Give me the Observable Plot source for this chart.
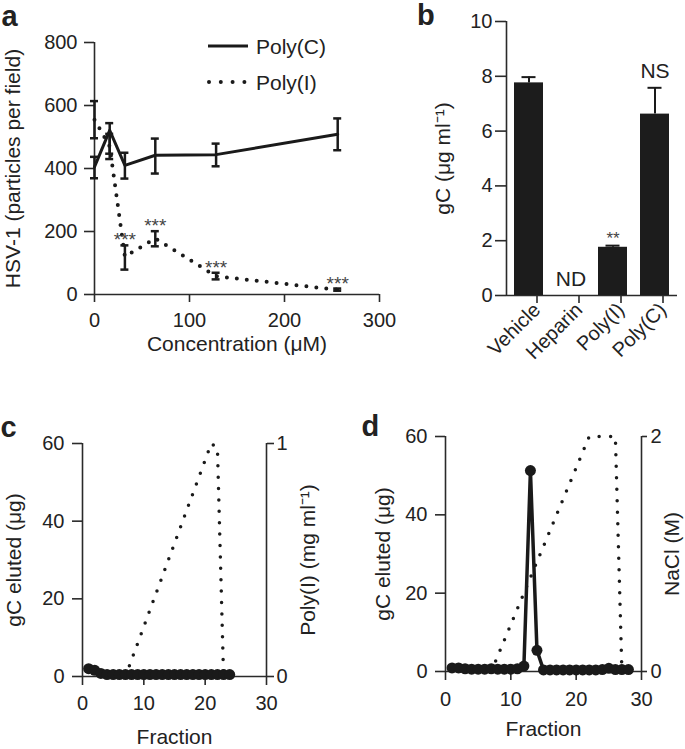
<!DOCTYPE html>
<html><head><meta charset="utf-8">
<script src="https://cdn.jsdelivr.net/npm/d3@7"></script>
<script src="https://cdn.jsdelivr.net/npm/@observablehq/plot@0.6"></script>
<style>
body{margin:0;background:#fff;}
#fig{position:relative;width:685px;height:749px;overflow:hidden;font-family:"Liberation Sans",Arial,sans-serif;color:#222;background:#fff}
#fig > svg{position:absolute;left:0;top:0;}
.lbl{position:absolute;font-weight:bold;font-size:29px;line-height:1;}
.leg{position:absolute;font-size:21px;line-height:1;white-space:nowrap;}
.legsym{position:absolute;overflow:visible;}
</style></head><body><div id="fig"></div>
<script>
// ---------- Panel a: HSV-1 binding vs concentration ----------
const concentrations = [0, 16, 32, 64, 128, 256];
const polyC_mean = [405, 521, 410, 442, 444, 509];
const polyC_lo   = [369, 447, 368, 384, 407, 458];
const polyC_hi   = [437, 544, 450, 495, 479, 559];
const polyI_mean = [555, 470, 120, 178, 58, 15];
const polyI_lo   = [496, 430, 79, 153, 48, 12];
const polyI_hi   = [614, 510, 156, 201, 69, 19];
const polyI_sig  = ["", "", "***", "***", "***", "***"];
const aXTicks = [0, 100, 200, 300];
const aYTicks = [0, 200, 400, 600, 800];

// ---------- Panel b: gC ----------
const bCategories = ["Vehicle", "Heparin", "Poly(I)", "Poly(C)"];
const bValues = [7.76, 0, 1.76, 6.62];
const bHi     = [7.97, null, 1.82, 7.58];
const bNotes  = ["", "ND", "", "NS"];
const bStars  = ["", "", "**", ""];
const bYTicks = [0, 2, 4, 6, 8, 10];

// ---------- Panel c: elution from Poly(I) column ----------
const cFractions = [1,2,3,4,5,6,7,8,9,10,11,12,13,14,15,16,17,18,19,20,21,22,23,24];
const cGC = [2.0,1.6,0.8,0.5,0.5,0.5,0.5,0.5,0.5,0.5,0.5,0.5,0.5,0.5,0.5,0.5,0.5,0.5,0.5,0.5,0.5,0.5,0.5,0.5];
const cPolyIFractions = [7, 21, 22, 23];
const cPolyI = [0, 1.0, 0.98, 0];

// ---------- Panel d: elution with NaCl gradient ----------
const dFractions = [1,2,3,4,5,6,7,8,9,10,11,12,13,14,15,16,17,18,19,20,21,22,23,24,25,26,27,28];
const dGC = [0.9,0.9,0.7,0.6,0.6,0.6,0.7,0.6,0.6,0.6,0.7,1.4,51.3,5.4,0.4,0.4,0.4,0.4,0.4,0.4,0.4,0.4,0.4,0.5,0.8,0.5,0.5,0.5];
const dNaClFractions = [7, 22, 26, 27];
const dNaCl = [0, 2, 2, 0];
const fracTicks = [0, 10, 20, 30];
const gcTicks = [0, 20, 40, 60];

const W = 685, H = 749;
const INK = "#1a1a1a", AX = "#2a2a2a";
const fig = document.getElementById("fig");
const baseStyle = {background: "transparent", fontFamily: "'Liberation Sans', Arial, sans-serif", fontSize: "20px", color: "#222", overflow: "visible"};
function mk(opts) {
  const svg = Plot.plot({width: W, height: H, style: baseStyle, ...opts});
  fig.appendChild(svg);
  return svg;
}
const T = d => d;
const intFmt = d => String(d);
const vLabel = (txt, anchor, dx) => Plot.text([txt], {text: T, frameAnchor: anchor, dx, rotate: -90, textAnchor: "middle", lineAnchor: "middle", fontSize: 21, fill: "#222"});
const hLabel = (txt, dy) => Plot.text([txt], {text: T, frameAnchor: "bottom", dy, textAnchor: "middle", lineAnchor: "middle", fontSize: 21, fill: "#222"});

// Panel a
const aData = concentrations.map((x, i) => ({x, c: polyC_mean[i], clo: polyC_lo[i], chi: polyC_hi[i],
  p: polyI_mean[i], plo: polyI_lo[i], phi: polyI_hi[i], sig: polyI_sig[i]}));
mk({
  marginLeft: 94, marginRight: 306, marginTop: 42, marginBottom: 455,
  x: {domain: [0, 300]}, y: {domain: [0, 800]},
  marks: [
    Plot.ruleY([0], {stroke: AX, strokeWidth: 1.6}),
    Plot.ruleX([0], {stroke: AX, strokeWidth: 1.6}),
    Plot.axisX(aXTicks, {tickSize: 8, tickPadding: 10, fontSize: 20, label: null, strokeWidth: 1.6, stroke: AX, tickFormat: intFmt}),
    Plot.axisY(aYTicks, {tickSize: 10, tickPadding: 7, fontSize: 20, label: null, strokeWidth: 1.6, stroke: AX, tickFormat: intFmt}),
    Plot.line(aData, {x: "x", y: "p", stroke: INK, strokeWidth: 4, strokeDasharray: "0 10", strokeLinecap: "round"}),
    Plot.ruleX(aData, {x: "x", y1: "plo", y2: "phi", stroke: INK, strokeWidth: 2.5}),
    Plot.ruleY(aData, {y: "plo", x1: "x", x2: "x", insetLeft: -4, insetRight: -4, stroke: INK, strokeWidth: 2.5}),
    Plot.ruleY(aData, {y: "phi", x1: "x", x2: "x", insetLeft: -4, insetRight: -4, stroke: INK, strokeWidth: 2.5}),
    Plot.line(aData, {x: "x", y: "c", stroke: INK, strokeWidth: 3}),
    Plot.ruleX(aData, {x: "x", y1: "clo", y2: "chi", stroke: INK, strokeWidth: 2.5}),
    Plot.ruleY(aData, {y: "clo", x1: "x", x2: "x", insetLeft: -4, insetRight: -4, stroke: INK, strokeWidth: 2.5}),
    Plot.ruleY(aData, {y: "chi", x1: "x", x2: "x", insetLeft: -4, insetRight: -4, stroke: INK, strokeWidth: 2.5}),
    Plot.text(aData, {x: "x", y: "phi", text: "sig", lineAnchor: "middle", dy: -5, fontSize: 19, fill: "#444"}),
    vLabel("HSV-1 (particles per field)", "left", -81),
    hLabel("Concentration (μM)", 50)
  ]
});

// Panel b: axes overlay
mk({
  marginLeft: 506, marginRight: 8, marginTop: 21, marginBottom: 454,
  x: {domain: [0, 1], axis: null}, y: {domain: [0, 10]},
  marks: [
    Plot.ruleX([0], {stroke: AX, strokeWidth: 1.6}),
    Plot.ruleY([0], {stroke: AX, strokeWidth: 1.6}),
    Plot.axisY(bYTicks, {tickSize: 11, tickPadding: 3, fontSize: 20, label: null, strokeWidth: 1.6, stroke: AX, tickFormat: intFmt}),
    vLabel("gC (μg ml⁻¹)", "left", -63)
  ]
});
// Panel b: bars
const bData = bCategories.map((cat, i) => ({cat, v: bValues[i], hi: bHi[i], top: bHi[i] ?? bValues[i], note: bNotes[i], star: bStars[i]}));
const bErr = bData.filter(d => d.hi != null);
mk({
  marginLeft: 506, marginRight: 8, marginTop: 21, marginBottom: 454,
  x: {domain: bCategories, paddingInner: 0.3, paddingOuter: 0.15},
  y: {domain: [0, 10], axis: null},
  marks: [
    Plot.barY(bData, {x: "cat", y: "v", fill: "#1c1c1c"}),
    Plot.ruleX(bErr, {x: "cat", y1: "v", y2: "hi", stroke: INK, strokeWidth: 2}),
    Plot.tickY(bErr, {x: "cat", y: "hi", insetLeft: 7.5, insetRight: 7.5, stroke: INK, strokeWidth: 2}),
    Plot.axisX({tickRotate: -45, tickSize: 8, tickPadding: 3, dx: 8, fontSize: 20, label: null, strokeWidth: 1.6, stroke: AX}),
    Plot.text(bData, {x: "cat", y: "top", text: "note", lineAnchor: "bottom", dy: -10, fontSize: 21, fill: "#222"}),
    Plot.text(bData, {x: "cat", y: "top", text: "star", lineAnchor: "bottom", dy: -2, fontSize: 17, fill: "#444"})
  ]
});

// Panel c: right axis series (Poly(I) mg/ml)
const cRight = cPolyIFractions.map((f, i) => ({f, v: cPolyI[i]}));
mk({
  marginLeft: 82, marginRight: 419, marginTop: 443, marginBottom: 73,
  x: {domain: [0, 30], axis: null}, y: {domain: [0, 1]},
  marks: [
    Plot.line(cRight, {x: "f", y: "v", stroke: INK, strokeWidth: 3.5, strokeDasharray: "0 11.4", strokeLinecap: "round"}),
    Plot.ruleX([30], {stroke: AX, strokeWidth: 1.6}),
    Plot.axisY([0, 1], {anchor: "right", tickSize: 7, tickPadding: 3, fontSize: 20, label: null, strokeWidth: 1.6, stroke: AX, tickFormat: intFmt}),
    vLabel("Poly(I) (mg ml⁻¹)", "right", 42)
  ]
});
const cData = cFractions.map((f, i) => ({f, v: cGC[i]}));
mk({
  marginLeft: 82, marginRight: 419, marginTop: 443, marginBottom: 73,
  x: {domain: [0, 30]}, y: {domain: [0, 60]},
  marks: [
    Plot.ruleY([0], {stroke: AX, strokeWidth: 1.6}),
    Plot.ruleX([0], {stroke: AX, strokeWidth: 1.6}),
    Plot.axisX(fracTicks, {tickSize: 9, tickPadding: 10, fontSize: 20, label: null, strokeWidth: 1.6, stroke: AX, tickFormat: intFmt}),
    Plot.axisY(gcTicks, {tickSize: 10, tickPadding: 8, fontSize: 20, label: null, strokeWidth: 1.6, stroke: AX, tickFormat: intFmt}),
    Plot.line(cData, {x: "f", y: "v", stroke: INK, strokeWidth: 3}),
    Plot.dot(cData, {x: "f", y: "v", r: 5.5, fill: INK}),
    vLabel("gC eluted (μg)", "left", -68),
    hLabel("Fraction", 61)
  ]
});

// Panel d: right axis series (NaCl M)
const dRight = dNaClFractions.map((f, i) => ({f, v: dNaCl[i]}));
mk({
  marginLeft: 445, marginRight: 44, marginTop: 436, marginBottom: 78,
  x: {domain: [0, 30], axis: null}, y: {domain: [0, 2]},
  marks: [
    Plot.line(dRight, {x: "f", y: "v", stroke: INK, strokeWidth: 3.5, strokeDasharray: "0 11.5", strokeLinecap: "round"}),
    Plot.ruleX([30], {stroke: AX, strokeWidth: 1.6}),
    Plot.axisY([0, 2], {anchor: "right", tickSize: 5, tickPadding: 4, fontSize: 20, label: null, strokeWidth: 1.6, stroke: AX, tickFormat: intFmt}),
    vLabel("NaCl (M)", "right", 31)
  ]
});
const dData = dFractions.map((f, i) => ({f, v: dGC[i]}));
mk({
  marginLeft: 445, marginRight: 44, marginTop: 436, marginBottom: 78,
  x: {domain: [0, 30]}, y: {domain: [0, 60]},
  marks: [
    Plot.ruleY([0], {stroke: AX, strokeWidth: 1.6}),
    Plot.ruleX([0], {stroke: AX, strokeWidth: 1.6}),
    Plot.axisX(fracTicks, {tickSize: 9, tickPadding: 11, fontSize: 20, label: null, strokeWidth: 1.6, stroke: AX, tickFormat: intFmt}),
    Plot.axisY(gcTicks, {tickSize: 10, tickPadding: 8, fontSize: 20, label: null, strokeWidth: 1.6, stroke: AX, tickFormat: intFmt}),
    Plot.line(dData, {x: "f", y: "v", stroke: INK, strokeWidth: 3.5}),
    Plot.dot(dData, {x: "f", y: "v", r: 5.5, fill: INK}),
    vLabel("gC eluted (μg)", "left", -62),
    hLabel("Fraction", 58)
  ]
});

// Legend for panel a
const ns = "http://www.w3.org/2000/svg";
function legSym(top, dashed) {
  const s = document.createElementNS(ns, "svg");
  s.setAttribute("class", "legsym");
  s.setAttribute("width", 50); s.setAttribute("height", 12);
  s.style.left = "204px"; s.style.top = (top - 6) + "px";
  const l = document.createElementNS(ns, "line");
  l.setAttribute("x1", dashed ? 5 : 4); l.setAttribute("x2", dashed ? 41 : 44);
  l.setAttribute("y1", 6); l.setAttribute("y2", 6);
  l.setAttribute("stroke", INK);
  l.setAttribute("stroke-width", dashed ? 4 : 3);
  if (dashed) { l.setAttribute("stroke-dasharray", "0 11.8"); l.setAttribute("stroke-linecap", "round"); }
  s.appendChild(l); fig.appendChild(s);
}
function addDiv(cls, text, left, top) {
  const d = document.createElement("div");
  d.className = cls; d.textContent = text;
  d.style.left = left + "px"; d.style.top = top + "px";
  fig.appendChild(d);
}
legSym(46, false); legSym(82, true);
addDiv("leg", "Poly(C)", 256, 35.5);
addDiv("leg", "Poly(I)", 256, 71.5);
addDiv("lbl", "a", 1.5, 2);
addDiv("lbl", "b", 417, 0.5);
addDiv("lbl", "c", 0.5, 412.5);
addDiv("lbl", "d", 361.5, 412);
</script></body></html>
